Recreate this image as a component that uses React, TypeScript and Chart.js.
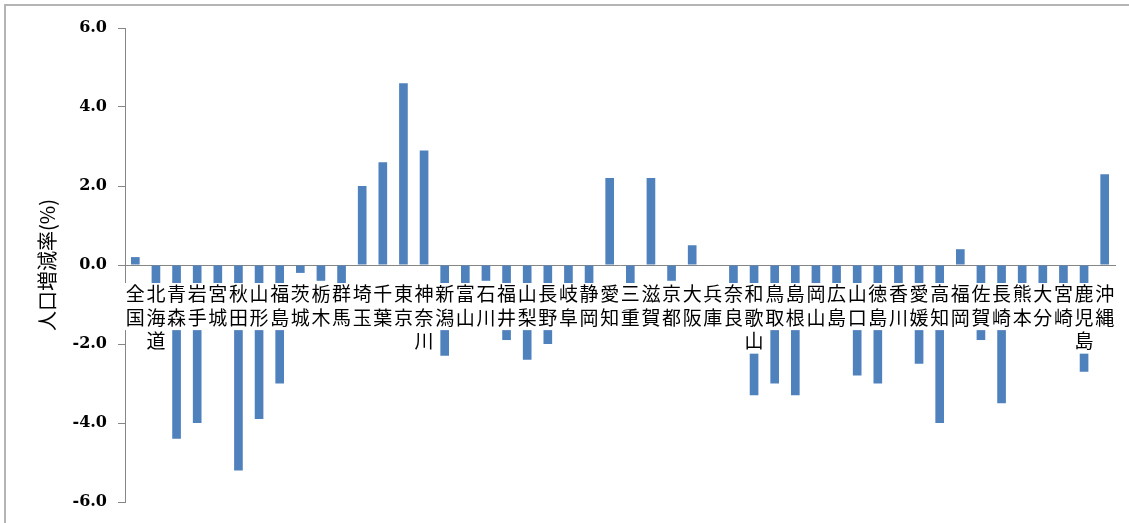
import React, { useEffect, useRef } from "react";
import { Chart, registerables } from "chart.js";

Chart.register(...registerables);

// 都道府県（全国を含む）
const categories: string[] = [
  "全国", "北海道", "青森", "岩手", "宮城", "秋田", "山形", "福島",
  "茨城", "栃木", "群馬", "埼玉", "千葉", "東京", "神奈川", "新潟",
  "富山", "石川", "福井", "山梨", "長野", "岐阜", "静岡", "愛知",
  "三重", "滋賀", "京都", "大阪", "兵庫", "奈良", "和歌山", "鳥取",
  "島根", "岡山", "広島", "山口", "徳島", "香川", "愛媛", "高知",
  "福岡", "佐賀", "長崎", "熊本", "大分", "宮崎", "鹿児島", "沖縄",
];

// 人口増減率 (%)
const growthRates: number[] = [
  0.2, -2.2, -4.4, -4.0, -0.5, -5.2, -3.9, -3.0,
  -0.2, -0.4, -0.8, 2.0, 2.6, 4.6, 2.9, -2.3,
  -1.6, -0.4, -1.9, -2.4, -2.0, -1.3, -0.7, 2.2,
  -0.7, 2.2, -0.4, 0.5, 0.0, -1.4, -3.3, -3.0,
  -3.3, -0.6, -0.6, -2.8, -3.0, -1.6, -2.5, -4.0,
  0.4, -1.9, -3.5, -1.3, -1.1, -1.5, -2.7, 2.3,
];

const yTickValues: number[] = [-6, -4, -2, 0, 2, 4, 6];
const yAxisTitle = "人口増減率(%)";

const LABEL_FONT_SIZE = 19;
const LABEL_LINE_HEIGHT = 1.24;
const LABEL_PAD = 9;
const BACKDROP_TOP = 18;

const labelBackdrop = {
  id: "labelBackdrop",
  afterDatasetsDraw(chart: any) {
    const xs = chart.scales.x;
    const ys = chart.scales.y;
    const ctx = chart.ctx;
    const zero = ys.getPixelForValue(0);
    const lineH = LABEL_FONT_SIZE * LABEL_LINE_HEIGHT;
    const colW = xs.width / categories.length;
    ctx.save();
    ctx.fillStyle = "#ffffff";
    categories.forEach((c, i) => {
      const cx = xs.getPixelForValue(i);
      const n = Array.from(c).length;
      ctx.fillRect(cx - colW / 2, zero + BACKDROP_TOP, colW, n * lineH);
    });
    ctx.restore();
  },
};

export default function App() {
  const canvasRef = useRef<HTMLCanvasElement | null>(null);

  useEffect(() => {
    if (!canvasRef.current) return;
    const chart = new Chart(canvasRef.current, {
      type: "bar",
      data: {
        labels: categories,
        datasets: [
          {
            data: growthRates,
            backgroundColor: "#4F81BD",
            borderWidth: 0,
            barPercentage: 0.42,
            categoryPercentage: 1.0,
          },
        ],
      },
      plugins: [labelBackdrop],
      options: {
        animation: false,
        responsive: true,
        maintainAspectRatio: false,
        layout: { padding: { left: 0, top: 28, right: 14, bottom: 21 } },
        plugins: {
          legend: { display: false },
          tooltip: { enabled: false },
        },
        scales: {
          x: {
            type: "category",
            position: { y: 0 } as any,
            offset: true,
            grid: { display: false },
            border: { display: true, color: "#868686", width: 1 },
            ticks: {
              z: 1,
              autoSkip: false,
              maxRotation: 0,
              minRotation: 0,
              padding: LABEL_PAD,
              color: "#000000",
              font: {
                family: "'Noto Sans CJK JP', sans-serif",
                size: LABEL_FONT_SIZE,
                lineHeight: LABEL_LINE_HEIGHT,
              },
              callback: (_v: any, i: number) => Array.from(categories[i]),
            },
            afterFit: (s: any) => {
              s.height = 0;
            },
          },
          y: {
            type: "linear",
            position: "left",
            min: -6,
            max: 6,
            afterBuildTicks: (s: any) => {
              s.ticks = yTickValues.map((v) => ({ value: v }));
            },
            afterFit: (s: any) => {
              s.width = 125;
            },
            grid: {
              drawOnChartArea: false,
              drawTicks: true,
              tickLength: 7,
              color: "#868686",
            },
            border: { display: true, color: "#868686", width: 1 },
            ticks: {
              padding: 11,
              color: "#000000",
              font: { family: "'DejaVu Serif', serif", size: 16, weight: "bold" },
              callback: (v: any) => Number(v).toFixed(1),
            },
            title: {
              display: true,
              text: yAxisTitle,
              color: "#000000",
              font: { family: "'Noto Sans CJK JP', sans-serif", size: 20 },
              padding: { top: 35, bottom: 0 },
            },
          },
        },
      },
    });
    return () => chart.destroy();
  }, []);

  return (
    <div
      style={{
        position: "fixed",
        left: 0,
        top: 0,
        width: 1129,
        height: 523,
        background: "#ffffff",
      }}
    >
      <div
        style={{
          position: "absolute",
          left: 4,
          top: 4,
          right: 0,
          bottom: 0,
          borderTop: "2px solid #b4b4b4",
          borderLeft: "2px solid #b4b4b4",
        }}
      />
      <canvas ref={canvasRef} style={{ position: "absolute", left: 0, top: 0 }} />
    </div>
  );
}
